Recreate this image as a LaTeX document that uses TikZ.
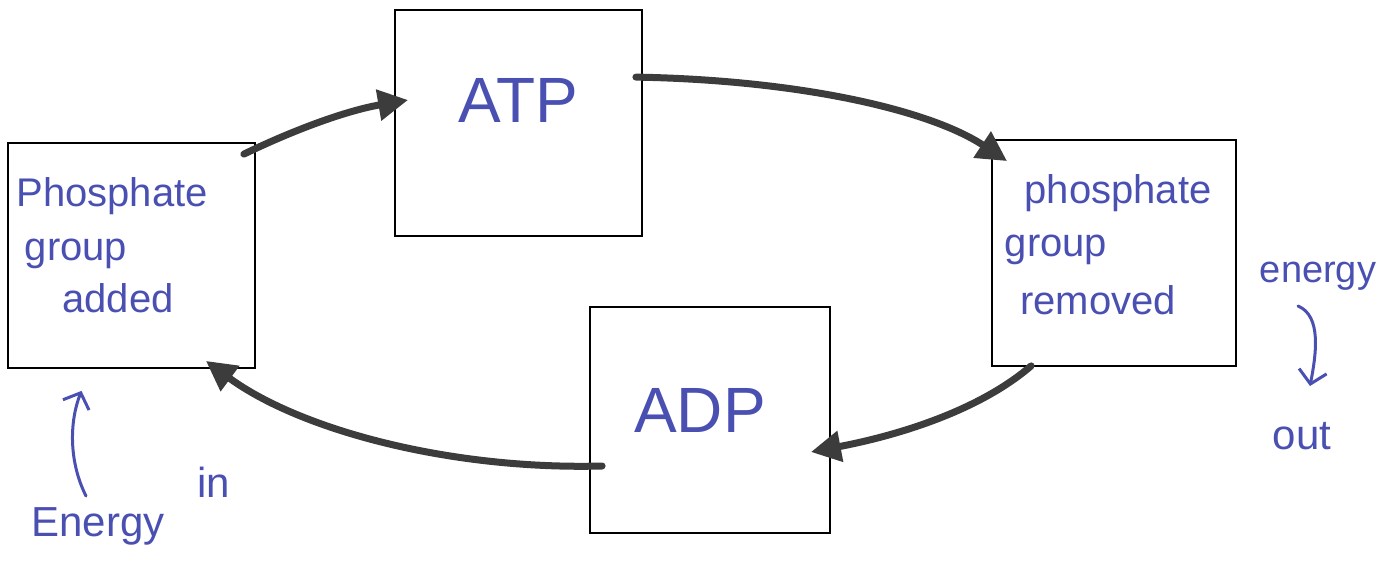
\documentclass[tikz,border=0pt]{standalone}
\usepackage{fontspec}
\setmainfont{Liberation Sans}
\usetikzlibrary{arrows.meta}
\definecolor{ink}{HTML}{4A4FB2}
\definecolor{pencil}{HTML}{3C3C3C}
\tikzset{
  box/.style={draw=black, line width=1.8pt, inner sep=0pt},
  hw/.style={text=ink, inner sep=0pt, anchor=center},
  cyc/.style={draw=pencil, line width=7pt, line cap=round,
     -{Triangle[length=30pt,width=30pt]}},
  note/.style={draw=ink, line width=3pt, line cap=round,
     -{Straight Barb[length=13pt,width=28pt,line width=3pt]}}
}
\begin{document}
\begin{tikzpicture}[x=1pt,y=-1pt]
\useasboundingbox (0,0) rectangle (1395,562);
% boxes
\node[box, minimum width=247pt, minimum height=226pt] (ATP) at (518.5,123) {};
\node[box, minimum width=247pt, minimum height=225pt] (L) at (131.5,255.5) {};
\node[box, minimum width=244pt, minimum height=226pt] (R) at (1114,253) {};
\node[box, minimum width=240pt, minimum height=226pt] (ADP) at (710,420) {};
% texts in boxes
\node[hw, font=\fontsize{64}{64}\selectfont] (tATP) at (518,100) {ATP};
\node[hw, font=\fontsize{64}{64}\selectfont] (tADP) at (700,410) {ADP};
\node[hw, font=\fontsize{40}{40}\selectfont] (l1) at (112,196) {Phosphate};
\node[hw, font=\fontsize{40}{40}\selectfont] (l2) at (76,254) {group};
\node[hw, font=\fontsize{40}{40}\selectfont] (l3) at (118,298) {added};
\node[hw, font=\fontsize{40}{40}\selectfont] (r1) at (1118,193) {phosphate};
\node[hw, font=\fontsize{40}{40}\selectfont] (r2) at (1056,250) {group};
\node[hw, font=\fontsize{40}{40}\selectfont] (r3) at (1098,300) {removed};
% outside labels
\node[hw, font=\fontsize{38}{38}\selectfont] (eo1) at (1318,276) {energy};
\node[hw, font=\fontsize{42}{42}\selectfont] (eo2) at (1302,436) {out};
\node[hw, font=\fontsize{42}{42}\selectfont] (ein1) at (98,526) {Energy};
\node[hw, font=\fontsize{42}{42}\selectfont] (ein2) at (214,482) {in};
% cycle arrows
\draw[cyc] ([shift={(-12,12)}]L.north east) .. controls (300,127) and (350,110) .. ([shift={(14,-23)}]ATP.west);
\draw[cyc] ([shift={(-7,68)}]ATP.north east) .. controls (800,80) and (930,110) .. ([shift={(16,22)}]R.north west);
\draw[cyc] ([shift={(40,-1)}]R.south west) .. controls (980,410) and (900,435) .. ([shift={(-20,32)}]ADP.east);
\draw[cyc] ([shift={(13,46)}]ADP.west) .. controls (450,470) and (300,430) .. ([shift={(-50,-8)}]L.south east);
% energy arrows
\coordinate (einTail) at (86,496);
\coordinate (eoTail) at (1298,306);
\coordinate (eoTip) at (1310,386);
\draw[note] (einTail) .. controls (68,460) and (70,420) .. ([shift={(-50,22)}]L.south);
\draw[note] (eoTail) .. controls (1322,316) and (1316,355) .. (eoTip);
\end{tikzpicture}
\end{document}
